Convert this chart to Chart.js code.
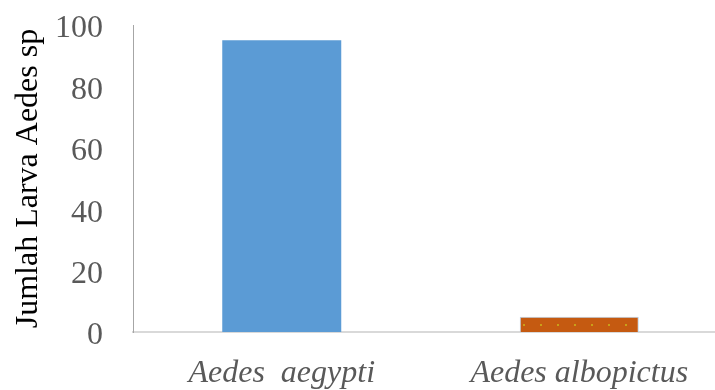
<!DOCTYPE html>
<html>
<head>
<meta charset="utf-8">
<script src="https://cdn.jsdelivr.net/npm/chart.js@4/dist/chart.umd.min.js"></script>
<style>
  html, body { margin: 0; padding: 0; background: #ffffff; overflow: hidden; }
  #wrap { width: 728px; height: 390px; }
</style>
</head>
<body>
<div id="wrap"><canvas id="c" width="728" height="390"></canvas></div>
<script>
// Larva counts per species
const species = ['Aedes  aegypti', 'Aedes albopictus'];
const larvaCount = [95, 5];
const yTicks = [0, 20, 40, 60, 80, 100];

const axisTitle = 'Jumlah Larva Aedes sp';

// Dotted orange fill for the second bar
function dottedFill() {
  const tile = document.createElement('canvas');
  tile.width = 17; tile.height = 17;
  const t = tile.getContext('2d');
  t.fillStyle = '#C55A11';
  t.fillRect(0, 0, 17, 17);
  t.fillStyle = '#C9A019';
  t.fillRect(13, 1, 2, 2);
  return document.getElementById('c').getContext('2d').createPattern(tile, 'repeat');
}

const serif = "'Liberation Serif', 'Times New Roman', serif";

new Chart(document.getElementById('c'), {
  type: 'bar',
  data: {
    labels: species,
    datasets: [{
      data: larvaCount,
      backgroundColor: ['#5B9BD5', dottedFill()],
      borderColor: ['#5B9BD5', '#B4D0EA'],
      borderWidth: [0, 1],
      borderSkipped: 'bottom',
      barPercentage: 1,
      categoryPercentage: 0.4
    }]
  },
  options: {
    responsive: false,
    devicePixelRatio: 1,
    animation: false,
    layout: { padding: { top: 25, left: 0, right: 0, bottom: 0 } },
    plugins: { legend: { display: false }, tooltip: { enabled: false } },
    scales: {
      x: {
        grid: { display: false, drawTicks: false },
        border: { display: true, color: '#D9D9D9', width: 2 },
        ticks: {
          color: '#595959',
          padding: 22,
          maxRotation: 0,
          font: { family: serif, size: 32, style: 'italic' }
        },
        afterFit: s => { s.height = 390 - 332; s.paddingLeft = 0; s.paddingRight = 0; }
      },
      y: {
        min: 0,
        max: 100,
        afterBuildTicks: s => { s.ticks = yTicks.map(v => ({ value: v })); },
        grid: { display: false, drawTicks: false },
        border: { display: true, color: '#A6A6A6', width: 1 },
        ticks: {
          color: '#595959',
          padding: 30,
          labelOffset: 4,
          font: { family: serif, size: 32 }
        },
        title: {
          display: true,
          text: axisTitle,
          color: '#000000',
          padding: { top: 9, bottom: 0 },
          font: { family: serif, size: 32 }
        },
        afterFit: s => { s.width = 133; s.paddingTop = 0; s.paddingBottom = 0; }
      }
    }
  }
});
</script>
</body>
</html>
